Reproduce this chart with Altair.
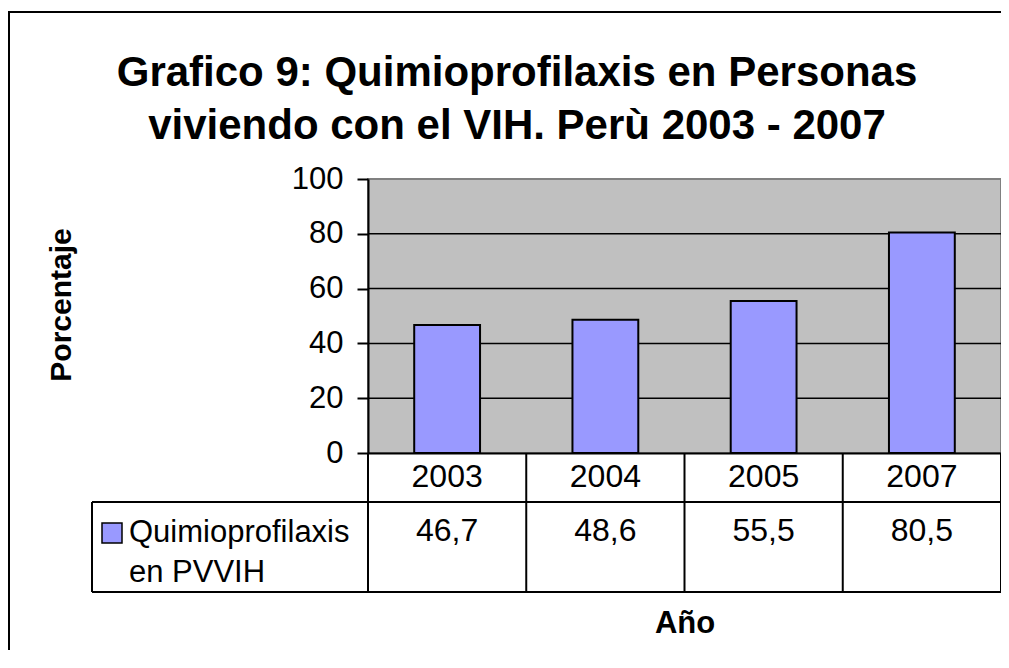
import altair as alt
import pandas as pd

# ---- data ----
years = ["2003", "2004", "2005", "2007"]
values = [46.7, 48.6, 55.5, 80.5]
y_ticks = [0, 20, 40, 60, 80, 100]
grid_values = [20, 40, 60, 80]
title_lines = ["Grafico 9: Quimioprofilaxis en Personas",
               "viviendo con el VIH. Perù 2003 - 2007"]
series_lines = ["Quimioprofilaxis", "en PVVIH"]
x_title = "Año"
y_title = "Porcentaje"

# ---- layout (pixels, relative to plot area origin) ----
W, H = 633, 274
PAD_L, PAD_T = 360, 171
TOTAL_H = 642
FONT = "Liberation Sans"
BAR_COLOR = "#9999FF"

df = pd.DataFrame({
    "year": years,
    "value": values,
    "label": [f"{v:.1f}".replace(".", ",") for v in values],
})

x_scale = alt.Scale(domain=years, paddingInner=0.584, paddingOuter=0.292)
y_scale = alt.Scale(domain=[0, 100])

dummy = pd.DataFrame({"d": [0]})

grid = alt.Chart(pd.DataFrame({"g": grid_values})).mark_rule(
    color="black", strokeWidth=1.5
).encode(y=alt.Y("g:Q", scale=y_scale))

bars = alt.Chart(df).mark_bar(color=BAR_COLOR, stroke="black", strokeWidth=2).encode(
    x=alt.X("year:N", scale=x_scale, sort=years,
            axis=alt.Axis(labels=False, ticks=False, domainColor="black",
                          domainWidth=2, title=None)),
    y=alt.Y("value:Q", scale=y_scale,
            axis=alt.Axis(values=y_ticks, grid=False, title=None,
                          domainColor="black", domainWidth=2,
                          tickColor="black", tickWidth=2, tickSize=11,
                          labelFont=FONT, labelFontSize=31, labelColor="black",
                          labelPadding=14)),
)

year_text = alt.Chart(df).mark_text(font=FONT, fontSize=32, baseline="middle", color="black").encode(
    x=alt.X("year:N", scale=x_scale, sort=years), y=alt.value(298), text="year:N")

value_text = alt.Chart(df).mark_text(font=FONT, fontSize=32, baseline="middle", color="black").encode(
    x=alt.X("year:N", scale=x_scale, sort=years), y=alt.value(352), text="label:N")

# table lines
step = W / len(years)
segments = [
    (-276, W, 323, 323),
    (-276, W, 413, 413),
    (-276, -276, 323, 413),
] + [(i * step, i * step, H, 413) for i in range(len(years) + 1)]

lines = [
    alt.Chart(dummy).mark_rule(color="black", strokeWidth=2).encode(
        x=alt.value(x1), x2=alt.value(x2), y=alt.value(y1), y2=alt.value(y2))
    for (x1, x2, y1, y2) in segments
]

legend_key = alt.Chart(dummy).mark_rect(fill=BAR_COLOR, stroke="black", strokeWidth=1.5).encode(
    x=alt.value(-266), x2=alt.value(-246), y=alt.value(344), y2=alt.value(364))

series_text = [
    alt.Chart(dummy).mark_text(font=FONT, fontSize=31, align="left", baseline="middle", color="black").encode(
        x=alt.value(-239), y=alt.value(yy), text=alt.value(t))
    for t, yy in zip(series_lines, [354, 394])
]

title_text = [
    alt.Chart(dummy).mark_text(font=FONT, fontSize=42, fontWeight="bold", align="center",
                               baseline="alphabetic", color="black").encode(
        x=alt.value(149), y=alt.value(yy), text=alt.value(t))
    for t, yy in zip(title_lines, [-93, -40])
]

xtitle = alt.Chart(dummy).mark_text(font=FONT, fontSize=31, fontWeight="bold", align="center",
                                    baseline="middle", color="black").encode(
    x=alt.value(317), y=alt.value(445), text=alt.value(x_title))

ytitle = alt.Chart(dummy).mark_text(font=FONT, fontSize=30, fontWeight="bold", align="center",
                                    baseline="middle", angle=270, color="black").encode(
    x=alt.value(-306), y=alt.value(126), text=alt.value(y_title))

border = alt.Chart(dummy).mark_rect(fillOpacity=0, stroke="black", strokeWidth=2).encode(
    x=alt.value(-359), x2=alt.value(W + 60), y=alt.value(-167), y2=alt.value(TOTAL_H))

chart = alt.layer(
    grid, bars, year_text, value_text, *lines, legend_key, *series_text,
    *title_text, xtitle, ytitle, border
).properties(
    width=W, height=H,
    autosize=alt.AutoSizeParams(type="none"),
    padding={"left": PAD_L, "top": PAD_T, "right": 0, "bottom": TOTAL_H - PAD_T - H},
    background="white",
).configure_view(fill="#C0C0C0", stroke="#808080", strokeWidth=2)

chart.save("out.html", embed_options={"renderer": "svg", "actions": False})
